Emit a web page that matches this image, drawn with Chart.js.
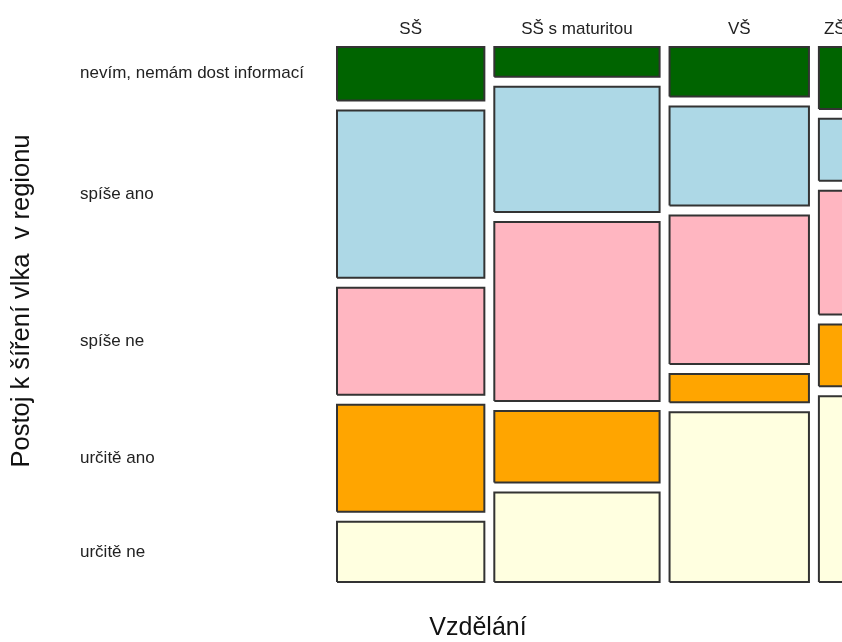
<!DOCTYPE html>
<html><head><meta charset="utf-8">
<script src="https://cdn.jsdelivr.net/npm/chart.js@4.4.1/dist/chart.umd.min.js"></script>
<style>html,body{margin:0;padding:0;background:#fff}canvas{display:block}</style>
</head><body>
<canvas id="c" width="842" height="642"></canvas>
<script>
// Categories (columns) and attitude levels (rows, top to bottom)
const education = ['SŠ', 'SŠ s maturitou', 'VŠ', 'ZŠ'];
const attitudes = ['nevím, nemám dost informací', 'spíše ano', 'spíše ne', 'určitě ano', 'určitě ne'];
// Counts per education level for each attitude
const nevim     = [8, 5, 7, 2];
const spiseAno  = [25, 21, 14, 2];
const spiseNe   = [16, 30, 21, 4];
const urciteAno = [16, 12, 4, 2];
const urciteNe  = [9, 15, 24, 6];
const colors = ['#006400', '#ADD8E6', '#FFB6C1', '#FFA500', '#FFFFE0'];
const xTitle = 'Vzdělání';
const yTitle = 'Postoj k šíření vlka  v regionu';

const series = [nevim, spiseAno, spiseNe, urciteAno, urciteNe];
const GAP_X = 5, GAP_Y = 0.02, X_MAX = 253.6;
const totals = education.map((_, i) => series.reduce((s, a) => s + a[i], 0));

const datasets = [];
const xCenters = [];
const rowTicks = [];
let x0 = 0;
education.forEach((ed, i) => {
  const x1 = x0 + totals[i];
  xCenters.push((x0 + x1) / 2);
  let y0 = 0;
  for (let j = series.length - 1; j >= 0; j--) {
    const y1 = y0 + series[j][i] / totals[i];
    datasets.push({
      label: attitudes[j] + ' / ' + ed,
      data: [{x: x0, y: y0}, {x: x1, y: y0}, {x: x1, y: y1}, {x: x0, y: y1}, {x: x0, y: y0}],
      backgroundColor: colors[j],
      borderColor: '#333333',
      borderWidth: 2,
      borderJoinStyle: 'miter',
      fill: 'shape',
      clip: false,
      pointRadius: 0,
      pointHoverRadius: 0,
      tension: 0
    });
    if (i === 0) rowTicks.push({value: (y0 + y1) / 2, label: attitudes[j]});
    y0 = y1 + GAP_Y;
  }
  x0 = x1 + GAP_X;
});
const yMax = 1 + (series.length - 1) * GAP_Y;

const FONT = '"Liberation Sans", Arial, sans-serif';

const titlesPlugin = {
  id: 'axisTitles',
  afterDraw(chart) {
    const ctx = chart.ctx;
    ctx.save();
    ctx.fillStyle = '#111';
    ctx.font = '25px ' + FONT;
    ctx.textAlign = 'center';
    ctx.textBaseline = 'middle';
    ctx.fillText(xTitle, 478, 628);
    ctx.translate(22, 301);
    ctx.rotate(-Math.PI / 2);
    ctx.font = '25.5px ' + FONT;
    ctx.fillText(yTitle, 0, 0);
    ctx.restore();
  }
};

new Chart(document.getElementById('c'), {
  type: 'line',
  data: {datasets},
  options: {
    responsive: false,
    animation: false,
    events: [],
    layout: {autoPadding: false, padding: {left: 80, top: 0, right: 0, bottom: 60}},
    plugins: {legend: {display: false}, tooltip: {enabled: false}},
    scales: {
      x: {
        type: 'linear', position: 'top', min: 0, max: X_MAX,
        grid: {display: false, drawTicks: false}, border: {display: false},
        ticks: {autoSkip: false, maxRotation: 0, padding: 7, color: '#222',
                font: {family: FONT, size: 17},
                callback: (v, i) => education[i]},
        afterBuildTicks: s => { s.ticks = xCenters.map(v => ({value: v})); },
        afterFit: s => { s.height = 47; s.paddingLeft = 0; s.paddingRight = 0; }
      },
      y: {
        type: 'linear', position: 'left', min: 0, max: yMax,
        grid: {display: false, drawTicks: false}, border: {display: false},
        ticks: {autoSkip: false, crossAlign: 'far', padding: 0, color: '#222',
                font: {family: FONT, size: 17},
                callback: (v, i) => rowTicks[i].label},
        afterBuildTicks: s => { s.ticks = rowTicks.map(t => ({value: t.value})); },
        afterFit: s => { s.width = 257; s.paddingTop = 0; s.paddingBottom = 0; }
      }
    }
  },
  plugins: [titlesPlugin]
});
</script>
</body></html>
